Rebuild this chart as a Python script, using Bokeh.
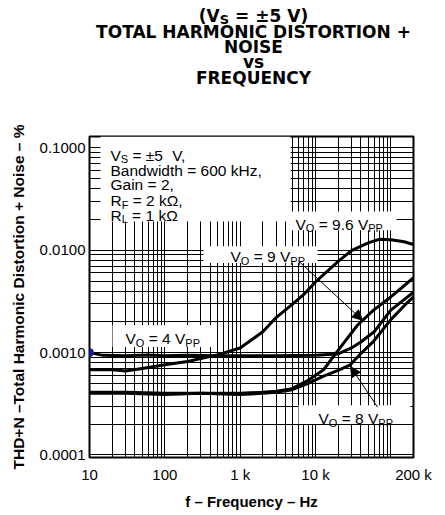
import math
from bokeh.plotting import figure
from bokeh.layouts import column
from bokeh.models import FixedTicker, Label, BoxAnnotation, Arrow, NormalHead
from bokeh.embed import file_html
from bokeh.resources import INLINE

# ---------------- data ----------------
freq_96 = [10, 20, 30, 50, 100, 200, 500, 1000, 2000, 3000, 5000, 7000,
           10000, 20000, 30000, 50000, 70000, 100000, 150000, 200000]
thd_96 = [0.00068, 0.00068, 0.00066, 0.00070, 0.00076, 0.00082, 0.00095, 0.00111,
          0.0016, 0.0022, 0.0030, 0.0037, 0.0049, 0.0078, 0.0099, 0.0118,
          0.0128, 0.0127, 0.0121, 0.0114]

freq_4 = [10, 15, 30, 60, 100, 200, 500, 1000, 3000, 10000, 20000, 30000,
          40000, 60000, 100000, 150000, 200000]
thd_4 = [0.00100, 0.00094, 0.00093, 0.00095, 0.00093, 0.00094, 0.00093, 0.00093,
         0.00093, 0.00094, 0.00097, 0.00111, 0.00127, 0.0016, 0.0026, 0.0033, 0.0039]

freq_9 = [10, 30, 100, 300, 1000, 2000, 3000, 4700, 7800, 12800, 19700, 36000,
          59000, 100000, 150000, 200000]
thd_9 = [0.00041, 0.00041, 0.00040, 0.00040, 0.00040, 0.00041, 0.00042, 0.00044,
         0.00053, 0.00068, 0.00104, 0.00185, 0.0026, 0.0035, 0.0045, 0.0054]

freq_8 = [10, 30, 100, 300, 1000, 2000, 3000, 4700, 8000, 12800, 20000, 29000,
          40000, 59000, 100000, 167000, 200000]
thd_8 = [0.00040, 0.00040, 0.00039, 0.00040, 0.00039, 0.00040, 0.00041, 0.00043,
         0.00050, 0.00059, 0.00067, 0.00076, 0.00098, 0.00129, 0.0021, 0.0031, 0.0035]

marker_f = [10]
marker_thd = [0.001]

x_ticks = [10, 100, 1000, 10000, 200000]
x_tick_labels = ["10", "100", "1 k", "10 k", "200 k"]
y_ticks = [0.0001, 0.001, 0.01, 0.1]
y_tick_labels = ["0.0001", "0.0010", "0.0100", "0.1000"]

title_lines = ["TOTAL HARMONIC DISTORTION +", "NOISE", "vs", "FREQUENCY"]

# ---------------- layout (page pixel coordinates) ----------------
W = 440
TH = 120            # height of the title strip
MH = 392            # height of the chart below it
FL, FR, FT, FB = 89, 413, 136, 461
XMIN, XMAX = 10, 2e5
YMIN, YMAX = 9.44e-5, 0.1294


def px2x(cx):
    a, b = math.log10(XMIN), math.log10(XMAX)
    return 10 ** (a + (cx - FL) / (FR - FL) * (b - a))


def px2y(cy):
    a, b = math.log10(YMIN), math.log10(YMAX)
    return 10 ** (b - (cy - FT) / (FB - FT) * (b - a))


# ---------------- title strip ----------------
t = figure(width=W, height=TH, x_range=(FL, FR), y_range=(TH, 0), title=None,
           output_backend="svg", toolbar_location=None,
           x_axis_location=None, y_axis_location=None,
           min_border_left=FL, min_border_right=W - FR, min_border_top=0,
           min_border_bottom=0)
t.outline_line_color = None
t.background_fill_color = "white"
t.border_fill_color = "white"
for g in t.grid:
    g.visible = False

# ---------------- main chart ----------------
p = figure(width=W, height=MH, x_axis_type="log", y_axis_type="log",
           x_range=(XMIN, XMAX), y_range=(YMIN, YMAX), title=None,
           output_backend="svg", toolbar_location=None,
           min_border_left=FL, min_border_right=W - FR,
           min_border_top=FT - TH, min_border_bottom=TH + MH - FB)

p.background_fill_color = "white"
p.border_fill_color = "white"
p.outline_line_color = "black"
p.outline_line_width = 2
p.outline_line_alpha = 1

x_minor = [m * 10 ** e for e in range(1, 6) for m in range(1, 10)
           if 10 < m * 10 ** e < 2e5 and m * 10 ** e not in x_ticks]
y_minor = [m * 10.0 ** e for e in range(-4, -1) for m in range(2, 10)]

p.xaxis.ticker = FixedTicker(ticks=x_ticks, minor_ticks=x_minor)
p.yaxis.ticker = FixedTicker(ticks=y_ticks, minor_ticks=y_minor)
p.xaxis.major_label_overrides = {v: s for v, s in zip(x_ticks, x_tick_labels)}
p.yaxis.major_label_overrides = {v: s for v, s in zip(y_ticks, y_tick_labels)}

for g in (p.xgrid[0], p.ygrid[0]):
    g.grid_line_color = "black"
    g.grid_line_width = 1
    g.grid_line_alpha = 1
    g.minor_grid_line_color = "black"
    g.minor_grid_line_width = 1
    g.minor_grid_line_alpha = 1

for ax in (p.xaxis[0], p.yaxis[0]):
    ax.axis_line_color = None
    ax.major_tick_line_color = None
    ax.minor_tick_line_color = None
    ax.major_tick_out = 0
    ax.major_tick_in = 0
    ax.minor_tick_out = 0
    ax.minor_tick_in = 0
    ax.major_label_text_font = "Liberation Sans"
    ax.major_label_text_font_size = "15px"
    ax.major_label_text_color = "black"
    ax.axis_label_text_font = "Liberation Sans"
    ax.axis_label_text_font_style = "bold"
    ax.axis_label_text_color = "black"

p.xaxis.axis_label = "f – Frequency – Hz"
p.xaxis.axis_label_text_font_size = "15px"
p.xaxis.major_label_standoff = 8
p.xaxis.axis_label_standoff = 7
p.yaxis.axis_label = "THD+N –Total Harmonic Distortion + Noise – %"
p.yaxis.axis_label_text_font_size = "15.5px"
p.yaxis.major_label_standoff = 4
p.yaxis.axis_label_standoff = 10

# ---------------- curves ----------------
for f, v in ((freq_96, thd_96), (freq_4, thd_4), (freq_9, thd_9), (freq_8, thd_8)):
    p.line(f, v, line_width=3, color="black", line_join="round", line_cap="round")

p.scatter(marker_f, marker_thd, size=8, color="#1c1c8c")

# ---------------- rich text helpers ----------------
ARIAL = {'V': .667, 'O': .778, ' ': .278, '=': .584, '9': .556, '.': .278, '6': .556,
         '4': .556, '8': .556, 'P': .667, 'S': .667, '±': .584, '5': .556, ',': .278,
         'B': .667, 'a': .556, 'n': .556, 'd': .556, 'w': .722, 'i': .222, 't': .278,
         'h': .556, '0': .556, 'k': .5, 'H': .722, 'z': .5, 'G': .722, 'R': .722,
         'F': .611, '2': .556, 'L': .556, '1': .556, 'Ω': .768}
DVB = {'(': .457, ')': .457, 'V': .774, 'S': .721, ' ': .348, '=': .838, '±': .838,
       '5': .696}


def tw(s, size, table):
    return sum(table.get(c, 0.6) for c in s) * size


def rich(fig, fx, fy, cx, cy, segs, font="Liberation Sans", size=15.5, sub_size=11,
         sub_drop=4, style="normal", table=ARIAL, align="left"):
    sizes = [sub_size if s else size for _, s in segs]
    total = sum(tw(txt, sz, table) for (txt, _), sz in zip(segs, sizes))
    x = cx - (total / 2 if align == "center" else 0)
    for (txt, s), sz in zip(segs, sizes):
        parts = txt.split("  ")
        for k, part in enumerate(parts):
            if k > 0:
                x += tw("  ", sz, table)
            lead = len(part) - len(part.lstrip(" "))
            x += tw(" " * lead, sz, table)
            core = part.strip(" ")
            if core:
                fig.add_layout(Label(x=fx(x), y=fy(cy + (sub_drop if s else 0)),
                                     text=core, text_font=font,
                                     text_font_size=f"{sz}px", text_font_style=style,
                                     text_color="black", text_align="left",
                                     text_baseline="alphabetic"))
                x += tw(core, sz, table)
                x += tw(" " * (len(part) - len(part.rstrip(" "))), sz, table)


def box(l, r, top, b):
    p.add_layout(BoxAnnotation(left=px2x(l), right=px2x(r), top=px2y(top), bottom=px2y(b),
                               fill_color="white", fill_alpha=1, line_color=None,
                               line_alpha=0))


def prich(cx, cy, segs):
    rich(p, px2x, px2y, cx, cy, segs)


# ---------------- annotations ----------------
box(100, 290, FT, 222)
box(287, 396, 212, 231)
box(203, 317, 247, 264)
box(112, 212, 327, 349)
box(298, 410, 408, 427)

prich(110, 155, [("V", False), ("S", True), (" = ±5  V,", False)])
prich(110, 170, [("Bandwidth = 600 kHz,", False)])
prich(110, 185, [("Gain = 2,", False)])
prich(110, 201, [("R", False), ("F", True), (" = 2 kΩ,", False)])
prich(110, 216, [("R", False), ("L", True), (" = 1 kΩ", False)])

prich(295, 225, [("V", False), ("O", True), (" = 9.6 V", False), ("PP", True)])
prich(230, 258, [("V", False), ("O", True), (" = 9 V", False), ("PP", True)])
prich(125, 341, [("V", False), ("O", True), (" = 4 V", False), ("PP", True)])
prich(318, 422, [("V", False), ("O", True), (" = 8 V", False), ("PP", True)])

p.add_layout(Arrow(x_start=px2x(298), y_start=px2y(262), x_end=px2x(362), y_end=px2y(322),
                   line_width=1, line_color="black",
                   end=NormalHead(size=10, fill_color="black", line_color="black")))
p.add_layout(Arrow(x_start=px2x(377), y_start=px2y(410), x_end=px2x(350), y_end=px2y(369),
                   line_width=1, line_color="black",
                   end=NormalHead(size=10, fill_color="black", line_color="black")))

# ---------------- title ----------------
TCX = 253
ident = lambda v: v
rich(t, ident, ident, TCX, 15, [("(V", False), ("S", True), (" = ±5 V)", False)],
     font="DejaVu Sans", size=17, sub_size=13, sub_drop=4, style="bold", table=DVB,
     align="center")
for line, base in zip(title_lines, [31, 46, 61, 77]):
    t.add_layout(Label(x=TCX, y=base, text=line, text_font="DejaVu Sans",
                       text_font_size="17px", text_font_style="bold", text_color="black",
                       text_align="center", text_baseline="alphabetic"))

layout = column(t, p, spacing=0)
open("out.html", "w").write(file_html(layout, INLINE))
